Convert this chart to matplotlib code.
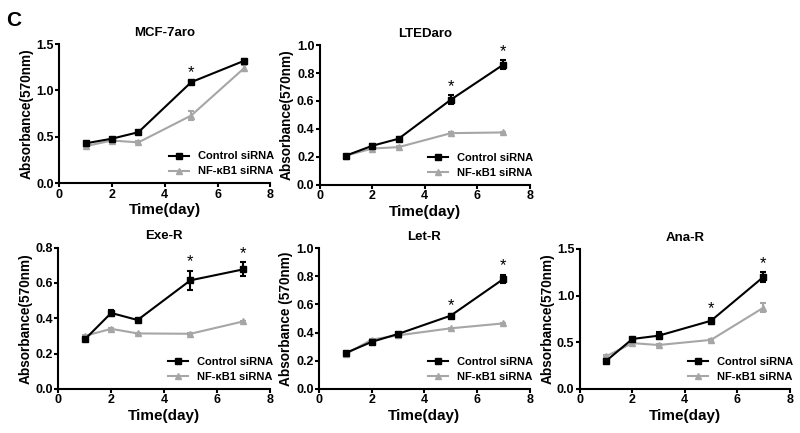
import numpy as np
import matplotlib
matplotlib.use("Agg")
import matplotlib.pyplot as plt
from matplotlib.lines import Line2D

plt.rcParams['font.family'] = ['Liberation Sans', 'DejaVu Sans']
plt.rcParams['font.weight'] = 'bold'

days = [1, 2, 3, 5, 7]

panels = ['MCF-7aro', 'LTEDaro', 'Exe-R', 'Let-R', 'Ana-R']
ylabels = ['Absorbance(570nm)', 'Absorbance(570nm)', 'Absorbance(570nm)',
           'Absorbance (570nm)', 'Absorbance(570nm)']
ymax = [1.5, 1.0, 0.8, 1.0, 1.5]
ystep = [0.5, 0.2, 0.2, 0.2, 0.5]

ctrl_mcf = [0.43, 0.48, 0.55, 1.09, 1.32]
ctrl_mcf_err = [0.01, 0.01, 0.01, 0.01, 0.015]
nfkb_mcf = [0.40, 0.46, 0.44, 0.73, 1.24]
nfkb_mcf_err = [0.01, 0.01, 0.01, 0.05, 0.03]

ctrl_lted = [0.21, 0.28, 0.33, 0.61, 0.86]
ctrl_lted_err = [0.005, 0.01, 0.01, 0.03, 0.03]
nfkb_lted = [0.21, 0.26, 0.27, 0.37, 0.375]
nfkb_lted_err = [0.005, 0.005, 0.005, 0.005, 0.005]

ctrl_exe = [0.28, 0.43, 0.39, 0.615, 0.677]
ctrl_exe_err = [0.005, 0.015, 0.005, 0.055, 0.04]
nfkb_exe = [0.30, 0.34, 0.314, 0.312, 0.382]
nfkb_exe_err = [0.005, 0.005, 0.005, 0.005, 0.005]

ctrl_let = [0.254, 0.334, 0.39, 0.52, 0.78]
ctrl_let_err = [0.005, 0.005, 0.005, 0.01, 0.03]
nfkb_let = [0.246, 0.35, 0.38, 0.43, 0.465]
nfkb_let_err = [0.005, 0.005, 0.005, 0.005, 0.005]

ctrl_ana = [0.30, 0.535, 0.57, 0.73, 1.20]
ctrl_ana_err = [0.01, 0.01, 0.04, 0.03, 0.05]
nfkb_ana = [0.35, 0.49, 0.47, 0.525, 0.87]
nfkb_ana_err = [0.01, 0.01, 0.01, 0.01, 0.05]

ctrl = [ctrl_mcf, ctrl_lted, ctrl_exe, ctrl_let, ctrl_ana]
ctrl_err = [ctrl_mcf_err, ctrl_lted_err, ctrl_exe_err, ctrl_let_err, ctrl_ana_err]
nfkb = [nfkb_mcf, nfkb_lted, nfkb_exe, nfkb_let, nfkb_ana]
nfkb_err = [nfkb_mcf_err, nfkb_lted_err, nfkb_exe_err, nfkb_let_err, nfkb_ana_err]
# which days get an asterisk
stars = [[5], [5, 7], [5, 7], [5, 7], [5, 7]]

grey = '#a6a6a6'
fig = plt.figure(figsize=(8, 4.33), dpi=100)
positions = [[0.074, 0.577, 0.264, 0.321],
             [0.400, 0.573, 0.262, 0.323],
             [0.073, 0.102, 0.264, 0.326],
             [0.399, 0.102, 0.263, 0.325],
             [0.725, 0.102, 0.262, 0.323]]

handles = [Line2D([], [], color='black', marker='s', ms=4, lw=1.5),
           Line2D([], [], color=grey, marker='^', ms=4.5, lw=1.5)]
labels = ['Control siRNA', 'NF-κB1 siRNA']

for i in range(5):
    ax = fig.add_axes(positions[i])
    ax.errorbar(days, nfkb[i], yerr=nfkb_err[i], color=grey, marker='^', ms=4.5,
                lw=1.5, capsize=2.5, elinewidth=1.5, capthick=1.5, zorder=2)
    ax.errorbar(days, ctrl[i], yerr=ctrl_err[i], color='black', marker='s', ms=4,
                lw=1.5, capsize=2.5, elinewidth=1.5, capthick=1.5, zorder=3)
    for d in stars[i]:
        k = days.index(d)
        ax.text(d, ctrl[i][k] + ctrl_err[i][k] + ymax[i] * 0.01, '*', ha='center', va='bottom',
                fontsize=12, fontweight='normal')
    ax.set_xlim(0, 8)
    ax.set_ylim(0, ymax[i])
    ax.set_xticks([0, 2, 4, 6, 8])
    ax.set_yticks(np.arange(0, ymax[i] + 1e-9, ystep[i]))
    ax.yaxis.set_major_formatter(matplotlib.ticker.FormatStrFormatter('%.1f'))
    for s in ['top', 'right']:
        ax.spines[s].set_visible(False)
    for s in ['left', 'bottom']:
        ax.spines[s].set_linewidth(1.5)
    ax.tick_params(width=1.5, length=3, labelsize=9, pad=1)
    ax.set_title(panels[i], fontsize=9.5, fontweight='bold', pad=6)
    ax.set_xlabel('Time(day)', fontsize=11, fontweight='bold', labelpad=2)
    ax.set_ylabel(ylabels[i], fontsize=9.8, fontweight='bold', labelpad=2)
    ax.legend(handles, labels, loc='lower right', frameon=False, fontsize=8,
              handlelength=1.8, borderaxespad=0.2, labelspacing=0.45, bbox_to_anchor=(1.05, 0.0))

fig.text(0.008, 0.975, 'C', fontsize=15, fontweight='bold', va='top')
fig.savefig('out.png', dpi=100)
